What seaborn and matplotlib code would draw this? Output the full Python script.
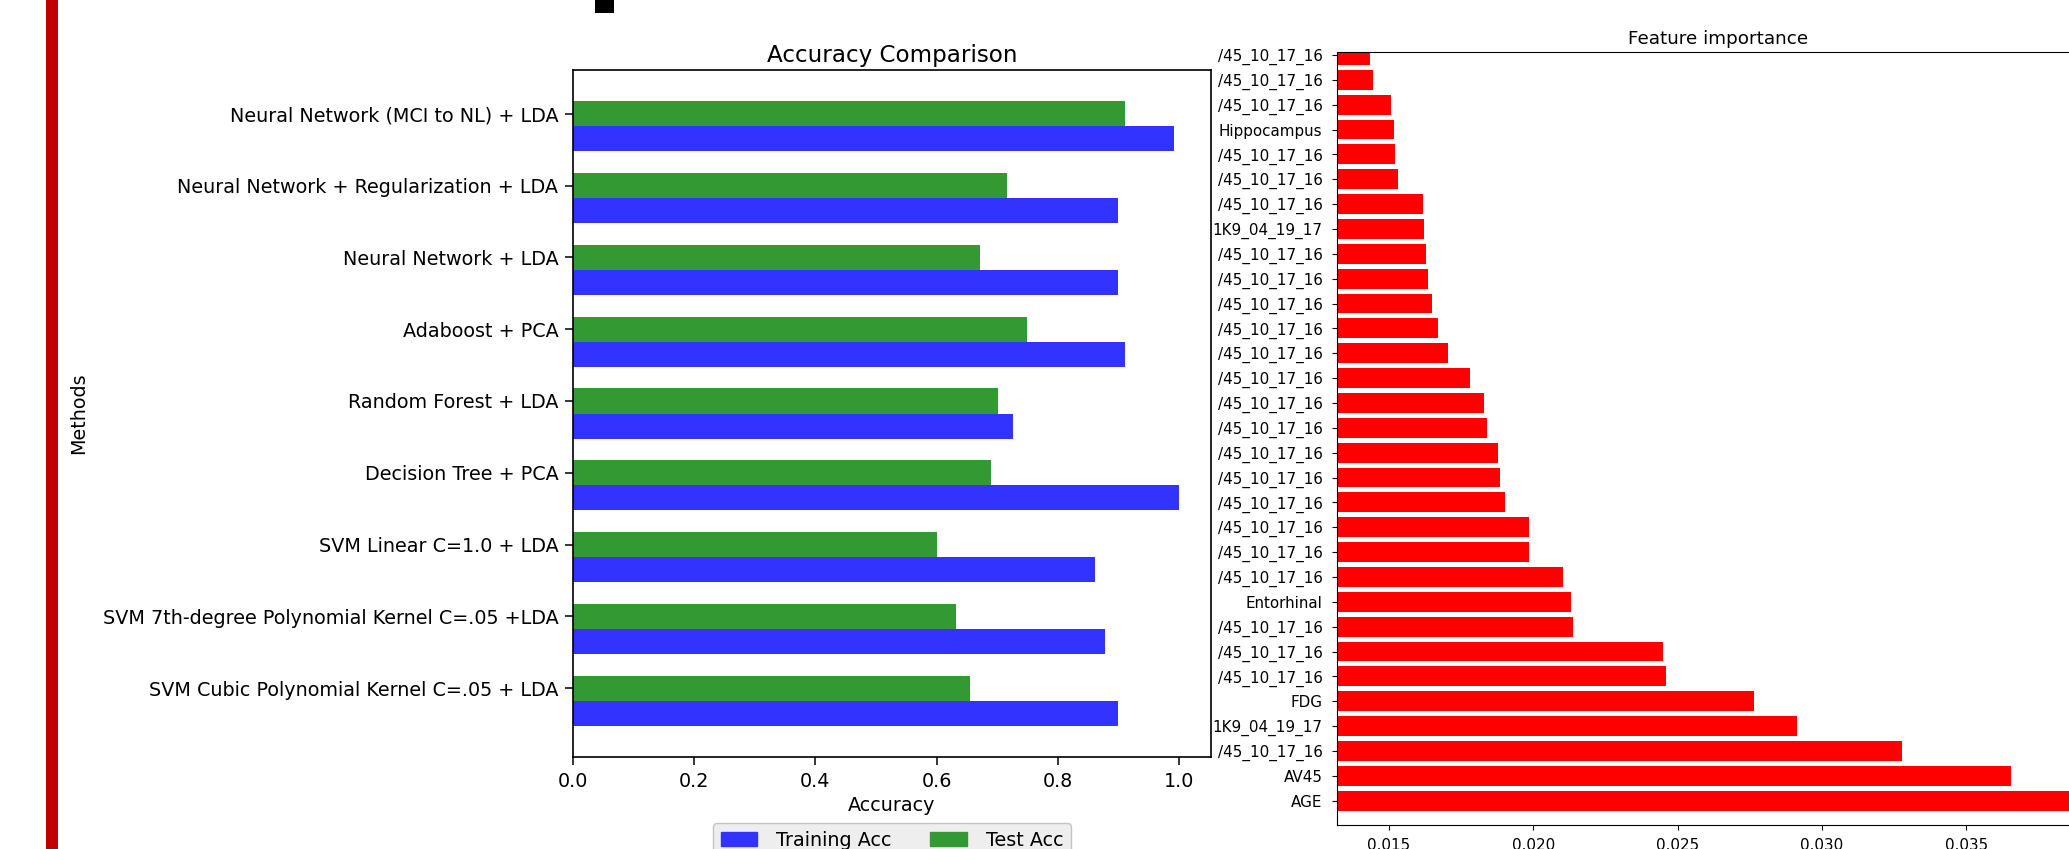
import seaborn as sns
import matplotlib.pyplot as plt
import matplotlib.patches as mpatches
from matplotlib.ticker import MultipleLocator, FormatStrFormatter
import pandas as pd
import numpy as np

# ---- data: accuracy comparison ----
methods = [
    'Neural Network (MCI to NL) + LDA',
    'Neural Network + Regularization + LDA',
    'Neural Network + LDA',
    'Adaboost + PCA',
    'Random Forest + LDA',
    'Decision Tree + PCA',
    'SVM Linear C=1.0 + LDA',
    'SVM 7th-degree Polynomial Kernel C=.05 +LDA',
    'SVM Cubic Polynomial Kernel C=.05 + LDA',
]
train_acc = [0.992, 0.900, 0.900, 0.911, 0.726, 1.000, 0.862, 0.878, 0.900]
test_acc = [0.911, 0.717, 0.671, 0.749, 0.701, 0.690, 0.600, 0.632, 0.655]

# ---- data: feature importance (top to bottom) ----
features = [
    '/45_10_17_16', '/45_10_17_16', '/45_10_17_16', 'Hippocampus', '/45_10_17_16',
    '/45_10_17_16', '/45_10_17_16', '1K9_04_19_17', '/45_10_17_16', '/45_10_17_16',
    '/45_10_17_16', '/45_10_17_16', '/45_10_17_16', '/45_10_17_16', '/45_10_17_16',
    '/45_10_17_16', '/45_10_17_16', '/45_10_17_16', '/45_10_17_16', '/45_10_17_16',
    '/45_10_17_16', '/45_10_17_16', 'Entorhinal', '/45_10_17_16', '/45_10_17_16',
    '/45_10_17_16', 'FDG', '1K9_04_19_17', '/45_10_17_16', 'AV45', 'AGE',
]
importance = [
    0.01435, 0.01443, 0.01508, 0.01517, 0.01521,
    0.01531, 0.01617, 0.01621, 0.01629, 0.01636,
    0.01648, 0.01671, 0.01705, 0.01780, 0.01830,
    0.01838, 0.01878, 0.01884, 0.01901, 0.01984,
    0.01986, 0.02103, 0.02130, 0.02137, 0.02448,
    0.02460, 0.02765, 0.02915, 0.03277, 0.03654, 0.03920,
]

sns.set_style('ticks', {'axes.edgecolor': 'black', 'text.color': 'black',
                        'xtick.color': 'black', 'ytick.color': 'black',
                        'axes.labelcolor': 'black'})
plt.rcParams['font.family'] = ['DejaVu Sans']

acc_df = pd.DataFrame({
    'Method': methods * 2,
    'Accuracy': train_acc + test_acc,
    'Set': ['Training Acc'] * len(methods) + ['Test Acc'] * len(methods),
})
imp_df = pd.DataFrame({'Rank': list(range(len(features))), 'Importance': importance})

W, H = 2069, 849
fig = plt.figure(figsize=(W / 100, H / 100), dpi=100)

# decorations of the slide
fig.add_artist(mpatches.Rectangle((46 / W, 0), 12 / W, 1, transform=fig.transFigure,
                                  color='#c00000', lw=0))
fig.add_artist(mpatches.Rectangle((595 / W, 1 - 13 / H), 19 / W, 13 / H,
                                  transform=fig.transFigure, color='black', lw=0))

# ---- left: accuracy comparison ----
ax1 = fig.add_axes([573 / W, (H - 757) / H, 638 / W, 687 / H])
colors = {'Training Acc': '#3333ff', 'Test Acc': '#339933'}
sns.barplot(data=acc_df, y='Method', x='Accuracy', hue='Set',
            hue_order=['Test Acc', 'Training Acc'], palette=colors,
            order=methods, orient='h', width=0.7, saturation=1,
            errorbar=None, linewidth=0, legend=False, ax=ax1)
fs = 13.8
ax1.set_yticks(np.arange(len(methods)) - 0.175, labels=methods, fontsize=fs)
ax1.set_ylim(len(methods) - 1 + 0.785, -0.785)
ax1.set_xlim(0, 1.053)
ax1.set_xticks(np.arange(0, 1.01, 0.2))
ax1.xaxis.set_major_formatter(FormatStrFormatter('%.1f'))
ax1.tick_params(labelsize=fs, length=5.5, width=1.1, pad=5)
for sp in ax1.spines.values():
    sp.set_linewidth(1.2)
    sp.set_visible(True)
ax1.set_title('Accuracy Comparison', fontsize=16.6)
ax1.set_xlabel('Accuracy', fontsize=fs)
ax1.set_ylabel('Methods', fontsize=fs)
ax1.yaxis.set_label_coords((88 - 573) / 638, 0.5)

handles = [mpatches.Patch(color=colors['Training Acc'], label='Training Acc'),
           mpatches.Patch(color=colors['Test Acc'], label='Test Acc')]
ax1.legend(handles=handles, ncol=2, loc='upper center', bbox_to_anchor=(0.5, -0.096),
           fontsize=fs, frameon=True, fancybox=True, facecolor='#eeeeee',
           edgecolor='#c4c4c4', framealpha=1, handlelength=1.9, handletextpad=1.0,
           columnspacing=2.0, borderaxespad=0)

# ---- right: feature importance ----
x_left, x_right = 0.0132, 0.0396
ax2 = fig.add_axes([1337 / W, (H - 825) / H, 762 / W, 773 / H])
sns.barplot(data=imp_df, y='Rank', x='Importance', orient='h', color='#ff0000',
            saturation=1, width=0.8, errorbar=None, linewidth=0, ax=ax2)
ax2.set_yticks(range(len(features)), labels=features, fontsize=10.9)
ax2.set_ylim(len(features) - 1 + 0.98, -0.12)
ax2.set_xlim(x_left, x_right)
ax2.xaxis.set_major_locator(MultipleLocator(0.005))
ax2.xaxis.set_major_formatter(FormatStrFormatter('%.3f'))
ax2.tick_params(labelsize=10.9, pad=5.5)
ax2.tick_params(axis='y', pad=7)
ax2.set_xlabel('')
ax2.set_ylabel('')
ax2.set_title('Feature importance', fontsize=13.2)

fig.savefig('out.png', dpi=100)
